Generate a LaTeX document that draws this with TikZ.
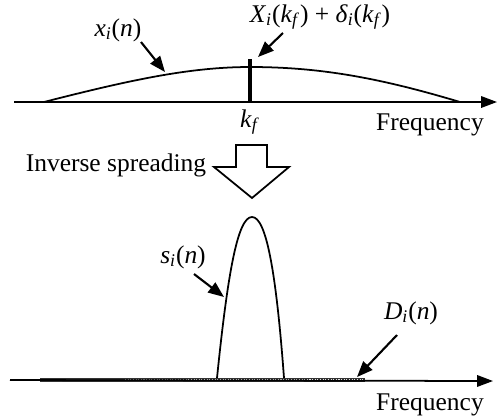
\documentclass[tikz,border=0pt]{standalone}
\usepackage{fontspec}
\setmainfont{Liberation Serif}
\usetikzlibrary{arrows.meta}

\newcommand{\vi}[1]{\textit{#1}}
\tikzset{
  lbl/.style={inner sep=0pt,font=\fontsize{14.5}{16}\selectfont},
  pointer/.style={-{Triangle[length=9pt,width=7pt]},line width=1.2pt},
  axis/.style={-{Triangle[length=9pt,width=6.5pt]},line width=1pt},
}

\begin{document}
\begin{tikzpicture}[x=0.02cm,y=-0.02cm,line width=1pt]
\useasboundingbox (0,0) rectangle (500,417);
%% top spectrum
\coordinate (t0) at (14,102);
\coordinate (t1) at (497,102);
\draw[axis] (t0) -- (t1);
\coordinate (ca) at (44,102);
\coordinate (cp) at (250,67);
\coordinate (cb) at (460,102);
\draw (ca) .. controls (130,80) and (190,67) .. (cp) .. controls (320,67) and (380,78) .. (cb);
\coordinate (kt) at (250,59);
\coordinate (kb) at (250,102);
\draw[line width=1.8pt] (kt) -- (kb);
\node[lbl] (kf) at (250,122) {\vi{k}\textsubscript{\vi{f}}};
\node[lbl] (freq1) at (430,125) {Frequency};
\node[lbl] (xin) at (118,30) {\vi{x}\textsubscript{\vi{i}}(\vi{n})};
\node[lbl] (xk) at (320,17) {\vi{X}\textsubscript{\vi{i}}(\vi{k}\textsubscript{\vi{f}}) + \vi{δ}\textsubscript{\vi{i}}(\vi{k}\textsubscript{\vi{f}})};
\coordinate (xfrom) at (141,42);
\coordinate (xon) at (165,72);
\coordinate (kfrom) at (283,33);
\coordinate (kon) at (258,57);
\draw[pointer] (xfrom) -- (xon);
\draw[pointer] (kfrom) -- (kon);
%% inverse spreading
\node[lbl] (inv) at (116,165) {Inverse spreading};
\draw[line width=1pt] (236,145) -- (267,145) -- (267,167) -- (289,167) -- (252,198)
  -- (214,167) -- (236,167) -- cycle;
%% bottom spectrum
\coordinate (b0) at (10,380);
\coordinate (b1) at (493,381);
\draw[line width=2.2pt,black!80] (40,380) -- (365,380);
\draw[white,line width=0.5pt,dash pattern=on 0.6pt off 0.9pt] (125,379.4) -- (365,379.4);
\draw[axis] (b0) -- (b1);
\coordinate (sa) at (217,378);
\coordinate (sp) at (252,217);
\coordinate (sb) at (284,378);
\draw (sa) .. controls (228,270) and (238,217) .. (sp) .. controls (266,217) and (276,270) .. (sb);
\node[lbl] (sin) at (183,257) {\vi{s}\textsubscript{\vi{i}}(\vi{n})};
\node[lbl] (din) at (411,313) {\vi{D}\textsubscript{\vi{i}}(\vi{n})};
\node[lbl] (freq2) at (430,405) {Frequency};
\coordinate (sfrom) at (194,274);
\coordinate (son) at (224,297);
\coordinate (dfrom) at (397,335);
\coordinate (don) at (357,377);
\draw[pointer] (sfrom) -- (son);
\draw[pointer] (dfrom) -- (don);
\end{tikzpicture}
\end{document}
